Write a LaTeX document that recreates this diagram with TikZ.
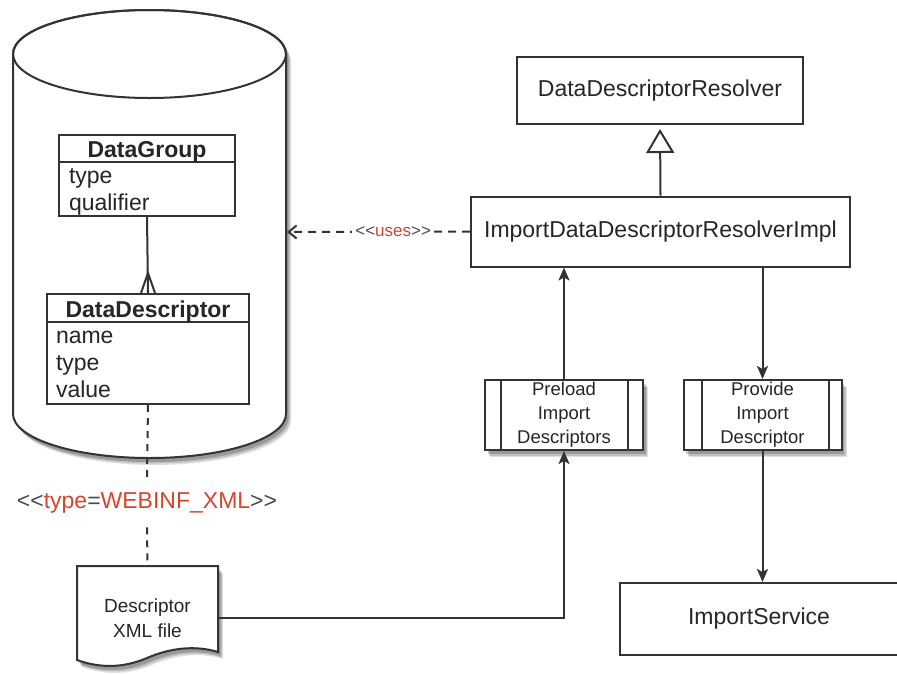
\documentclass[tikz,border=0pt]{standalone}
\usepackage{fontspec}
\setmainfont{Liberation Sans}
\usetikzlibrary{arrows.meta,shadows,calc}
\definecolor{ln}{HTML}{333333}
\definecolor{tx}{HTML}{262626}
\definecolor{rd}{HTML}{D8432E}
\definecolor{gy}{HTML}{4A4A4A}
\newcommand{\lt}{\textless\kern0pt\textless}
\newcommand{\gt}{\textgreater\kern0pt\textgreater}
\begin{document}
\begin{tikzpicture}[x=1pt,y=-1pt, color=ln, text=tx, line width=2pt,
  big/.style={font=\fontsize{23}{27}\selectfont},
  box/.style={draw, fill=white, rectangle, inner sep=0pt, big},
  shad/.style={
    general shadow={shadow xshift=5pt, shadow yshift=-7pt, fill=black, opacity=0.12},
    general shadow={shadow xshift=4pt, shadow yshift=-5.5pt, fill=black, opacity=0.15},
    general shadow={shadow xshift=2.5pt, shadow yshift=-4pt, fill=black, opacity=0.2}},
  proc/.style={draw, fill=white, rectangle, inner sep=0pt, minimum width=158pt, minimum height=70pt, align=center, font=\fontsize{18.5}{24}\selectfont, shad},
  attr/.style={anchor=base west, inner sep=0pt, big},
  head/.style={anchor=base, inner sep=0pt, font=\fontsize{23}{27}\selectfont\bfseries},
  tip/.style={-{Stealth[length=13pt,width=11pt,inset=3pt]}}]
\useasboundingbox (0,0) rectangle (897,673);

% database cylinder
\filldraw[fill=white, shad] (13,54) -- (13,414)
  arc[start angle=180,end angle=360,x radius=136.5pt,y radius=44pt]
  -- (286,54)
  arc[start angle=0,end angle=180,x radius=136.5pt,y radius=44pt] -- cycle;
\draw (149.5,54) ellipse[x radius=136.5pt, y radius=44pt];
\coordinate (dbR) at (287,232);

% DataGroup class
\node[box, minimum width=176pt, minimum height=81pt] (dg) at (147,175.5) {};
\draw ([yshift=-28pt]dg.north west) -- ([yshift=-28pt]dg.north east);
\node[head] (dgh) at (147,157) {DataGroup};
\node[attr] (dg1) at (68,183) {type};
\node[attr] (dg2) at (68,210) {qualifier};

% DataDescriptor class
\node[box, minimum width=202pt, minimum height=110pt] (dd) at (148,349) {};
\draw ([yshift=-29pt]dd.north west) -- ([yshift=-29pt]dd.north east);
\node[head] (ddh) at (148,317) {DataDescriptor};
\node[attr] (dd1) at (55,343) {name};
\node[attr] (dd2) at (55,370) {type};
\node[attr] (dd3) at (55,397) {value};

% association with crow's foot
\draw (dg.south) -- (dd.north);
\draw ([xshift=-7pt]dd.north) -- ([yshift=20pt]dd.north) -- ([xshift=7pt]dd.north);

% type label
\node[big, inner xsep=0pt, inner ysep=13pt] (lbl) at (147,503)
  {\textcolor{gy}{\lt}\textcolor{rd}{type}\textcolor{gy}{=}\textcolor{rd}{WEBINF\_XML}\textcolor{gy}{\gt}};

% document
\filldraw[fill=white, shad] (77,566) -- (218,566) -- (218,652)
  .. controls (195,645) and (170,648) .. (147,658)
  .. controls (128,666) and (105,670) .. (77,660) -- cycle;
\node[align=center, font=\fontsize{19}{25}\selectfont, minimum width=141pt, minimum height=104pt, inner sep=0pt] (xml) at (147.5,618) {Descriptor\\XML file};

\draw[dash pattern=on 7pt off 6pt] (dd.south) -- (lbl.north);
\draw[dash pattern=on 7pt off 6pt] (lbl.south) -- (xml.north);

% right side
\node[box, minimum width=286pt, minimum height=67pt] (ddr) at (660,90.5) {DataDescriptorResolver};
\node[box, minimum width=379pt, minimum height=70pt] (impl) at (660.5,231.5) {ImportDataDescriptorResolverImpl};
\node[box, minimum width=278pt, minimum height=72pt] (svc) at (759,619) {ImportService};

\node[proc] (pre) at (564,415) {Preload\\Import\\Descriptors};
\draw ([xshift=17pt]pre.north west) -- ([xshift=17pt]pre.south west);
\draw ([xshift=-16pt]pre.north east) -- ([xshift=-16pt]pre.south east);
\node[proc] (prov) at (762.5,415) {Provide\\Import\\Descriptor};
\draw ([xshift=19pt]prov.north west) -- ([xshift=19pt]prov.south west);
\draw ([xshift=-14pt]prov.north east) -- ([xshift=-14pt]prov.south east);

% generalization
\draw[-{Triangle[open, length=24pt, width=28pt, line width=2pt]}, shorten >=4pt] (impl.north) -- (ddr.south);

% uses dependency
\draw[dash pattern=on 8pt off 6pt, -{Straight Barb[length=8pt,width=13pt]}] (impl.west) --
  node[pos=0.42, fill=white, inner sep=3pt, font=\fontsize{17}{20}\selectfont]
  {\textcolor{gy}{\lt}\textcolor{rd}{uses}\textcolor{gy}{\gt}} (dbR);

% flows
\draw[tip] (pre.north) -- (pre.north |- impl.south);
\draw[tip] (prov.north |- impl.south) -- (prov.north);
\draw[tip] (prov.south) -- (prov.south |- svc.north);
\draw[tip] (xml.east) -| (pre.south);
\end{tikzpicture}
\end{document}
